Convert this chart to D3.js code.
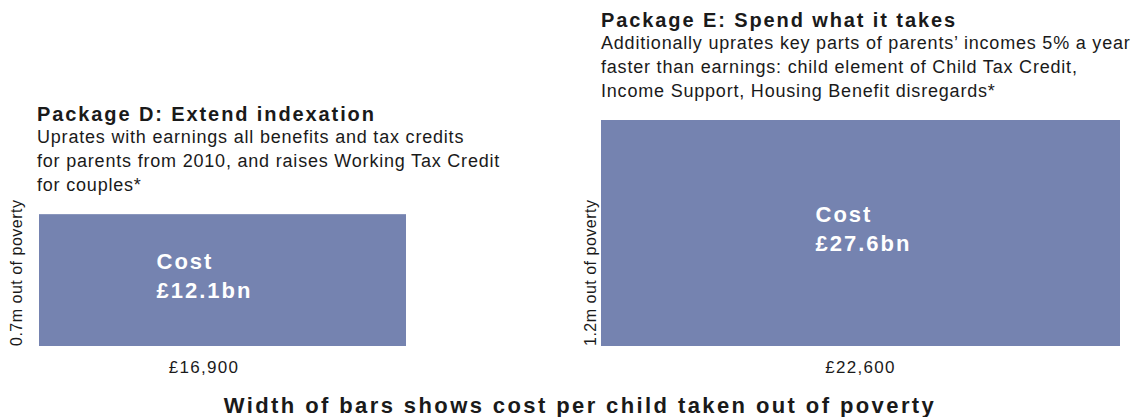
<!DOCTYPE html>
<html><head><meta charset="utf-8">
<script src="https://cdn.jsdelivr.net/npm/d3@7"></script>
<style>
html,body{margin:0;padding:0;background:#fff;}
text{font-family:"Liberation Sans",Arial,Helvetica,sans-serif;fill:#1a1a1a;}
</style></head>
<body><svg id="c" width="1137" height="417"></svg>
<script>
// ---- data ----
const packageTitles = ["Package D: Extend indexation", "Package E: Spend what it takes"];
const packageDescriptions = [
  ["Uprates with earnings all benefits and tax credits",
   "for parents from 2010, and raises Working Tax Credit",
   "for couples*"],
  ["Additionally uprates key parts of parents\u2019 incomes 5% a year",
   "faster than earnings: child element of Child Tax Credit,",
   "Income Support, Housing Benefit disregards*"]
];
const costPerChild = [16900, 22600];          // £ per child (bar width)
const childrenOut = [0.7, 1.2];               // millions (bar height)
const totalCostBn = [12.1, 27.6];             // £bn
const costPerChildLabels = ["\u00a316,900", "\u00a322,600"];
const childrenOutLabels = ["0.7m out of poverty", "1.2m out of poverty"];
const costLabels = totalCostBn.map(v => "\u00a3" + v.toFixed(1) + "bn");
const axisTitle = "Width of bars shows cost per child taken out of poverty";

// ---- layout ----
const barLeft = [39, 601];
const baseY = 346;
const textX = [37, 601];
const costDx = [-66, -45];
const bottomDx = [-18.5, 0];
const yLabelX = [22, 596];

const svg = d3.select("#c");
const w = d3.scaleLinear().domain([16900, 22600]).range([367, 519]);
const y = d3.scaleLinear().domain([0, 1.2]).range([baseY, 120]);

const g = svg.selectAll("g.pkg").data(packageTitles).join("g").attr("class","pkg");

g.append("rect")
  .attr("x", (d,i) => barLeft[i])
  .attr("y", (d,i) => y(childrenOut[i]))
  .attr("width", (d,i) => w(costPerChild[i]))
  .attr("height", (d,i) => baseY - y(childrenOut[i]))
  .attr("fill", "#7583b0");

g.append("text")
  .attr("x", (d,i) => textX[i])
  .attr("y", (d,i) => y(childrenOut[i]) - 93)
  .attr("font-size", 20).attr("font-weight", "bold")
  .style("letter-spacing", "1.9px")
  .text(d => d);

g.each(function(d,i){
  const top = y(childrenOut[i]);
  d3.select(this).selectAll("text.desc").data(packageDescriptions[i]).join("text")
    .attr("class","desc")
    .attr("x", textX[i])
    .attr("y", (l,j) => top - 71 + 24*j)
    .attr("font-size", 18)
    .style("letter-spacing", "0.8px")
    .text(l => l);
  const cx = barLeft[i] + w(costPerChild[i]) / 2;
  const cy = (top + baseY) / 2;
  d3.select(this).append("text")
    .attr("x", cx + costDx[i]).attr("y", cy - 11)
    .attr("font-size", 22).attr("font-weight","bold")
    .style("letter-spacing","2px").style("fill","#fff")
    .text("Cost");
  d3.select(this).append("text")
    .attr("x", cx + costDx[i]).attr("y", cy + 18)
    .attr("font-size", 22).attr("font-weight","bold")
    .style("letter-spacing","2px").style("fill","#fff")
    .text(costLabels[i]);
  d3.select(this).append("text")
    .attr("x", cx + bottomDx[i]).attr("y", 373)
    .attr("text-anchor","middle").attr("font-size", 17)
    .style("letter-spacing","1.3px")
    .text(costPerChildLabels[i]);
  d3.select(this).append("text")
    .attr("transform", `translate(${yLabelX[i]},${baseY}) rotate(-90)`)
    .attr("font-size", 16)
    .style("letter-spacing","0.5px")
    .text(childrenOutLabels[i]);
});

svg.append("text")
  .attr("x", 580).attr("y", 413)
  .attr("text-anchor","middle")
  .attr("font-size", 22).attr("font-weight","bold")
  .style("letter-spacing","2.4px")
  .text(axisTitle);
</script></body></html>
